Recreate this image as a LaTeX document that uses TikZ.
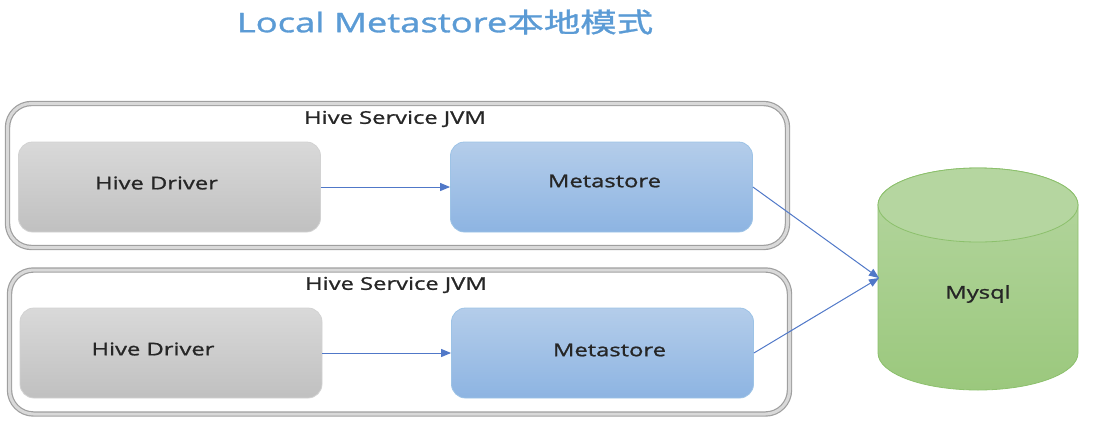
\documentclass[tikz,border=0pt]{standalone}
\usepackage{fontspec}
\setmainfont[FakeStretch=1.35, UprightFeatures={FakeBold=1.2}]{Open Sans}
\newfontfamily\cjkfont[FakeStretch=1.35, UprightFeatures={FakeBold=1.2}]{Noto Sans CJK SC}
\usepackage{xcolor}
\usetikzlibrary{arrows.meta, positioning}

\definecolor{titleblue}{RGB}{91,155,213}
\definecolor{inktext}{RGB}{38,38,38}
\definecolor{drvtop}{RGB}{217,217,217}
\definecolor{drvbot}{RGB}{192,192,192}
\definecolor{metatop}{RGB}{180,205,234}
\definecolor{metabot}{RGB}{141,180,226}
\definecolor{metaedge}{RGB}{157,195,230}
\definecolor{linkblue}{RGB}{80,120,200}
\definecolor{dbtop}{RGB}{181,214,160}
\definecolor{dbbot}{RGB}{155,200,125}
\definecolor{dbedge}{RGB}{140,192,108}

\begin{document}
\begin{tikzpicture}[
  x=0.5pt, y=-0.5pt,
  font=\fontsize{8.8}{10.5}\selectfont, text=inktext,
  jvmbox/.style={draw=gray!75, double=gray!30, double distance=1.5pt,
                 line width=0.6pt, rounded corners=12pt,
                 minimum width=390pt, minimum height=72pt},
  driverbox/.style={draw=gray!35, top color=drvtop, bottom color=drvbot,
                    rounded corners=7pt, minimum width=151pt, minimum height=45pt},
  metabox/.style={draw=metaedge, top color=metatop, bottom color=metabot,
                  rounded corners=7pt, minimum width=151pt, minimum height=45pt},
  arrow/.style={-{Triangle[length=5pt, width=4pt]}, draw=linkblue, line width=0.5pt},
]
\useasboundingbox (0,0) rectangle (1094,430);

\node[text=titleblue, font=\fontsize{13.5}{16}\selectfont] (title) at (445,22)
  {Local Metastore{\cjkfont 本地模式}};

% first service
\node[jvmbox] (jvma) at (397.5,175.5) {};
\node (jvmalbl) at (395,119) {Hive Service JVM};
\node[driverbox, label={[xshift=-6.5pt, yshift=2pt]center:Hive Driver}] (drva) at (169.5,187) {};
\node[metabox, label={[xshift=1.5pt, yshift=3pt]center:Metastore}] (meta) at (601.5,187) {};

% second service
\node[jvmbox] (jvmb) at (399.5,342) {};
\node (jvmblbl) at (396,285) {Hive Service JVM};
\node[driverbox, label={[xshift=-9pt, yshift=2pt]center:Hive Driver}] (drvb) at (171,353) {};
\node[metabox, label={[xshift=3.5pt, yshift=1.5pt]center:Metastore}] (metb) at (602.5,353) {};

% database
\path[draw=dbedge, top color=dbtop, bottom color=dbbot]
  (878,205) -- (878,353) arc[start angle=180, end angle=0, x radius=100, y radius=37]
  -- (1078,205) arc[start angle=0, end angle=-180, x radius=100, y radius=37] -- cycle;
\draw[draw=dbedge, fill=dbtop] (978,205) ellipse [x radius=100, y radius=37];
\node (mysql) at (978,294) {Mysql};
\coordinate (dbin) at (879,278);

\draw[arrow] (drva) -- (meta);
\draw[arrow] (drvb) -- (metb);
\draw[arrow] (meta.east) -- (dbin);
\draw[arrow] (metb.east) -- (dbin);
\end{tikzpicture}
\end{document}
